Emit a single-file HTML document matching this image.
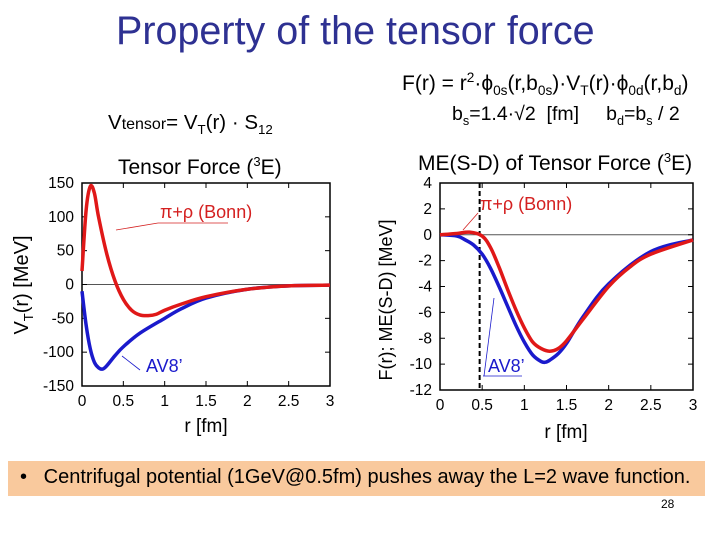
<!DOCTYPE html>
<html><head><meta charset="utf-8"><style>
body{margin:0;width:720px;height:540px;background:#fff;overflow:hidden;position:relative;font-family:"Liberation Sans",sans-serif}
.t{position:absolute;white-space:nowrap}
sub,sup{font-size:65%}
</style></head><body>
<div class="t" style="left:116px;top:9px;font-size:39.5px;color:#2e3192">Property of the tensor force</div>
<div class="t" style="left:108px;top:111px;font-size:20.5px">V<span style="font-size:16px">tensor</span>= V<sub>T</sub>(r) · S<sub>12</sub></div>
<div class="t" style="left:402px;top:70px;font-size:21px">F(r) = r<sup>2</sup>·ϕ<sub>0s</sub>(r,b<sub>0s</sub>)·V<sub>T</sub>(r)·ϕ<sub>0d</sub>(r,b<sub>d</sub>)</div>
<div class="t" style="left:452px;top:103px;font-size:19.5px">b<sub>s</sub>=1.4·√2&nbsp; [fm]&nbsp;&nbsp;&nbsp;&nbsp; b<sub>d</sub>=b<sub>s</sub> / 2</div>
<svg id="c" width="720" height="540" style="position:absolute;left:0;top:0" font-family="Liberation Sans, sans-serif"></svg>
<div class="t" style="left:8px;top:461px;width:697px;height:35px;background:#f9c99d"></div>
<div class="t" style="left:20px;top:466px;font-size:20px">•&nbsp;&nbsp; Centrifugal potential (1GeV@0.5fm) pushes away the L=2 wave function.</div>
<div class="t" style="left:661px;top:497px;font-size:12px">28</div>
<script>
const leftR=[0,0.05,0.1,0.15,0.2,0.3,0.4,0.5,0.6,0.7,0.8,0.9,1.0,1.2,1.5,2,2.5,3];
const leftRed=[20,110,145,135,100,45,5,-22,-38,-45,-46,-44,-38,-29,-18,-7,-2,-1];
const leftBlueR=[0,0.05,0.1,0.15,0.2,0.25,0.3,0.4,0.5,0.7,1.0,1.2,1.5,2,2.5,3];
const leftBlue=[-10,-60,-95,-115,-123,-125,-120,-105,-92,-72,-50,-36,-20,-7,-2,-1];
const rightRedR=[0,0.2,0.35,0.5,0.6,0.7,0.8,0.9,1.0,1.1,1.2,1.3,1.4,1.5,1.7,2,2.25,2.5,3];
const rightRed=[0,0.1,0.2,-0.1,-1,-2.5,-4.2,-5.8,-7.2,-8.3,-8.8,-9,-8.8,-8.2,-6.5,-4,-2.5,-1.5,-0.4];
const rightBlueR=[0,0.2,0.3,0.4,0.5,0.6,0.7,0.8,0.9,1.0,1.1,1.2,1.25,1.3,1.4,1.5,1.7,2,2.5,3];
const rightBlue=[0,-0.1,-0.4,-0.8,-1.5,-2.6,-4,-5.5,-7,-8.3,-9.3,-9.8,-9.85,-9.7,-9.2,-8.4,-6.3,-3.8,-1.3,-0.4];
const xTicks=["0","0.5","1","1.5","2","2.5","3"];
const leftYTicks=[150,100,50,0,-50,-100,-150];
const rightYTicks=[4,2,0,-2,-4,-6,-8,-10,-12];
const svg=document.getElementById('c');const NS='http://www.w3.org/2000/svg';
function mk(t,a,n){const e=document.createElementNS(NS,t);for(const k in a)e.setAttribute(k,a[k]);


svg.appendChild(e);return e;}
function path(xs,ys,sx,sy){let p=xs.map((x,i)=>[sx(x),sy(ys[i])]);let d='M'+p[0][0]+','+p[0][1];
for(let i=0;i<p.length-1;i++){const p0=p[Math.max(i-1,0)],p1=p[i],p2=p[i+1],p3=p[Math.min(i+2,p.length-1)];
d+=' C'+(p1[0]+(p2[0]-p0[0])/6)+','+(p1[1]+(p2[1]-p0[1])/6)+' '+(p2[0]-(p3[0]-p1[0])/6)+','+(p2[1]-(p3[1]-p1[1])/6)+' '+p2[0]+','+p2[1];}return d;}
function plot(pre,x0,x1,y0,y1,ymax,ymin,yt){
const sx=v=>x0+(v/3)*(x1-x0), sy=v=>y0+(ymax-v)/(ymax-ymin)*(y1-y0);
mk('line',{x1:x0,x2:x1,y1:sy(0),y2:sy(0),stroke:'#555','stroke-width':1},pre+'zero-line');
xTicks.forEach(t=>{const x=sx(+t);mk('line',{x1:x,x2:x,y1:y1,y2:y1-5,stroke:'#000'},pre+'x-tick');mk('line',{x1:x,x2:x,y1:y0,y2:y0+5,stroke:'#000'},pre+'x-tick-top');
const e=mk('text',{x:x,y:y1+20,'font-size':15.5,'text-anchor':'middle'},pre+'x-tick-label');e.textContent=t;});
yt.forEach(t=>{const y=sy(t);mk('line',{x1:x0,x2:x0+5,y1:y,y2:y,stroke:'#000'},pre+'y-tick');mk('line',{x1:x1,x2:x1-5,y1:y,y2:y,stroke:'#000'},pre+'y-tick-right');
const e=mk('text',{x:x0-8,y:y+5,'font-size':15.5,'text-anchor':'end'},pre+'y-tick-label');e.textContent=t;});
mk('rect',{x:x0,y:y0,width:x1-x0,height:y1-y0,fill:'none',stroke:'#000','stroke-width':1.5},pre+'frame');
return [sx,sy];}
let [lx,ly]=plot('left-',82,330,183,386,150,-150,leftYTicks);
mk('path',{d:path(leftBlueR,leftBlue,lx,ly),fill:'none',stroke:'#1a1acc','stroke-width':3.5},'left-av8-line');
mk('path',{d:path(leftR,leftRed,lx,ly),fill:'none',stroke:'#e01818','stroke-width':3.5},'left-bonn-line');
let [rx,ry]=plot('right-',440,693,183,390,4,-12,rightYTicks);
mk('line',{x1:rx(0.47),x2:rx(0.47),y1:183,y2:390,stroke:'#000','stroke-width':2,'stroke-dasharray':'5,3'},'cutoff-dashed-line');
mk('path',{d:path(rightBlueR,rightBlue,rx,ry),fill:'none',stroke:'#1a1acc','stroke-width':3.5},'right-av8-line');
mk('path',{d:path(rightRedR,rightRed,rx,ry),fill:'none',stroke:'#e01818','stroke-width':3.5},'right-bonn-line');
function txt(x,y,s,sz,c,n,a){const e=mk('text',{x:x,y:y,'font-size':sz,fill:c||'#000','text-anchor':a||'start'},n);e.innerHTML=s;return e;}
txt(118,174,'Tensor Force (<tspan dy="-8" font-size="13">3</tspan><tspan dy="8">E)</tspan>',21,'#000','left-chart-title');
txt(418,170,'ME(S-D) of Tensor Force (<tspan dy="-8" font-size="13">3</tspan><tspan dy="8">E)</tspan>',21,'#000','right-chart-title');
txt(206,432,'r [fm]',19,'#000','left-x-axis-title','middle');
txt(566,438,'r [fm]',19,'#000','right-x-axis-title','middle');
const lt=txt(0,0,'V<tspan dy="5" font-size="13">T</tspan><tspan dy="-5">(r) [MeV]</tspan>',20,'#000','left-y-axis-title','middle');lt.setAttribute('transform','translate(28,285) rotate(-90)');
const rt=txt(0,0,'F(r);  ME(S-D) [MeV]',18,'#000','right-y-axis-title','middle');rt.setAttribute('transform','translate(392,300) rotate(-90)');
txt(160,218,'π+ρ (Bonn)',18,'#d42020','left-bonn-label');
mk('line',{x1:158,x2:228,y1:223,y2:223,stroke:'#d42020','stroke-width':0.8},'left-bonn-underline');
mk('line',{x1:158,x2:116,y1:223,y2:230,stroke:'#d42020','stroke-width':0.8},'left-bonn-pointer');
txt(146,372,'AV8’',18,'#1a1acc','left-av8-label');
mk('line',{x1:140,x2:122,y1:370,y2:356,stroke:'#1a1acc','stroke-width':0.8},'left-av8-pointer');
txt(480,210,'π+ρ (Bonn)',18,'#d42020','right-bonn-label');
mk('line',{x1:478,x2:463,y1:213,y2:230,stroke:'#d42020','stroke-width':0.8},'right-bonn-pointer');
txt(488,372,'AV8’',18,'#1a1acc','right-av8-label');
mk('line',{x1:483,x2:522,y1:376,y2:376,stroke:'#1a1acc','stroke-width':0.8},'right-av8-underline');
mk('line',{x1:484,x2:494,y1:376,y2:298,stroke:'#1a1acc','stroke-width':0.8},'right-av8-pointer');
</script>
</body></html>
